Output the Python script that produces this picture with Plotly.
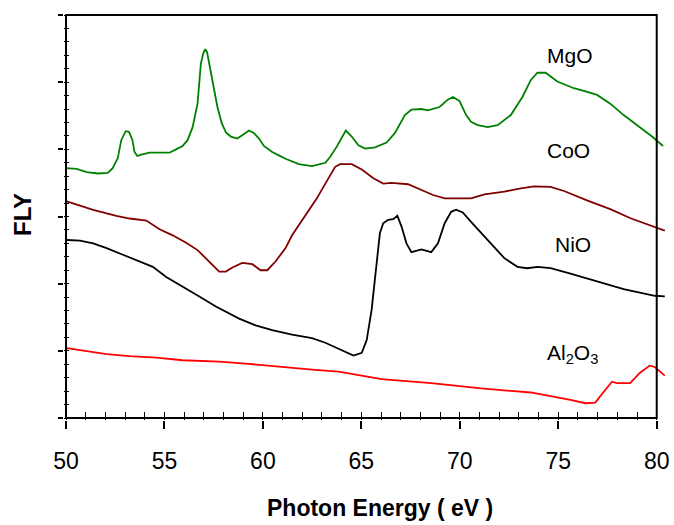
import plotly.graph_objects as go

# Photon energy (eV) and FLY intensity (arb. units, offset per sample)
mgo_x = [50.00, 50.54, 51.05, 51.63, 52.12, 52.37, 52.63, 52.81, 53.03, 53.20, 53.37, 53.48, 53.62, 53.82, 54.24,
         55.25, 55.59, 55.92, 56.18, 56.43, 56.68, 56.85, 56.97, 57.07, 57.16, 57.27, 57.44, 57.69, 57.91, 58.12,
         58.37, 58.70, 58.95, 59.29, 59.55, 59.80, 60.05, 60.47, 60.81, 61.15, 61.82, 62.49, 63.17, 63.42, 63.75,
         64.21, 64.51, 64.85, 65.19, 65.69, 66.28, 66.70, 67.21, 67.54, 68.05, 68.38, 68.97, 69.39, 69.65, 69.98,
         70.32, 70.57, 70.91, 71.41, 71.92, 72.59, 73.18, 73.60, 73.94, 74.36, 74.95, 75.79, 76.30, 76.97, 77.64,
         78.32, 79.14, 79.81, 80.32]
mgo_y = [3.72, 3.71, 3.66, 3.64, 3.65, 3.72, 3.87, 4.14, 4.27, 4.26, 4.14, 3.96, 3.90, 3.92, 3.95,
         3.95, 4.00, 4.05, 4.14, 4.33, 4.68, 5.28, 5.43, 5.49, 5.45, 5.28, 5.03, 4.63, 4.39, 4.25,
         4.19, 4.16, 4.21, 4.28, 4.24, 4.16, 4.05, 3.96, 3.91, 3.86, 3.78, 3.75, 3.80, 3.89, 4.04,
         4.28, 4.19, 4.06, 4.01, 4.03, 4.10, 4.24, 4.51, 4.59, 4.60, 4.58, 4.63, 4.74, 4.78, 4.72,
         4.51, 4.41, 4.36, 4.33, 4.36, 4.51, 4.78, 5.03, 5.14, 5.14, 5.01, 4.91, 4.87, 4.81, 4.68,
         4.51, 4.33, 4.18, 4.05]

coo_x = [50.00, 51.38, 52.56, 53.23, 54.08, 54.75, 55.42, 56.10, 56.68, 57.27, 57.78, 58.12, 58.45, 58.95, 59.46,
         59.88, 60.22, 60.64, 61.15, 61.48, 61.99, 62.32, 62.74, 63.17, 63.67, 63.92, 64.51, 65.02, 65.61, 66.11,
         66.53, 67.37, 68.05, 68.64, 69.23, 70.57, 71.25, 72.26, 73.10, 73.77, 74.61, 75.29, 76.46, 77.64, 78.70,
         79.81, 80.41]
coo_y = [3.23, 3.10, 3.01, 2.97, 2.94, 2.81, 2.72, 2.61, 2.50, 2.33, 2.18, 2.18, 2.24, 2.31, 2.29,
         2.20, 2.20, 2.33, 2.53, 2.72, 2.94, 3.10, 3.27, 3.49, 3.74, 3.78, 3.78, 3.70, 3.57, 3.49,
         3.50, 3.48, 3.40, 3.32, 3.27, 3.27, 3.33, 3.37, 3.42, 3.45, 3.44, 3.38, 3.24, 3.11, 2.97,
         2.85, 2.79]

nio_x = [50.04, 50.71, 51.38, 52.06, 52.89, 53.74, 54.41, 55.09, 55.92, 56.77, 57.61, 58.79, 59.63, 60.47, 61.48,
         62.49, 63.17, 63.84, 64.60, 65.02, 65.27, 65.52, 65.77, 65.94, 66.11, 66.36, 66.62, 66.83, 67.04, 67.29,
         67.54, 68.05, 68.55, 68.89, 69.23, 69.56, 69.81, 70.15, 70.57, 71.25, 72.26, 72.93, 73.43, 73.94, 74.61,
         75.62, 76.97, 78.32, 79.90, 80.41]
nio_y = [2.65, 2.64, 2.60, 2.53, 2.43, 2.33, 2.25, 2.10, 1.96, 1.81, 1.66, 1.48, 1.38, 1.31, 1.24,
         1.19, 1.12, 1.03, 0.93, 0.97, 1.16, 1.61, 2.25, 2.75, 2.90, 2.95, 2.96, 3.01, 2.85, 2.60,
         2.47, 2.51, 2.47, 2.60, 2.90, 3.07, 3.10, 3.06, 2.92, 2.70, 2.38, 2.25, 2.23, 2.25, 2.23,
         2.15, 2.03, 1.92, 1.82, 1.81]

al2o3_x = [50.04, 51.21, 52.06, 53.23, 54.58, 55.92, 57.78, 59.13, 60.14, 61.31, 62.49, 63.84, 66.03, 68.55,
           71.08, 73.60, 74.78, 75.62, 76.38, 76.88, 77.31, 77.73, 77.98, 78.65, 79.14, 79.64, 79.90, 80.41]
al2o3_y = [1.04, 0.99, 0.95, 0.92, 0.90, 0.86, 0.84, 0.81, 0.78, 0.75, 0.72, 0.69, 0.58, 0.52,
           0.44, 0.38, 0.32, 0.27, 0.22, 0.23, 0.39, 0.54, 0.52, 0.52, 0.67, 0.78, 0.76, 0.63]

series = [
    ("MgO", mgo_x, mgo_y, "#008000"),
    ("CoO", coo_x, coo_y, "#800000"),
    ("NiO", nio_x, nio_y, "#000000"),
    ("Al2O3", al2o3_x, al2o3_y, "#FF0000"),
]

labels = ["MgO", "CoO", "NiO", "Al<sub>2</sub>O<sub>3</sub>"]
label_x = [75.58, 75.53, 75.74, 75.74]
label_y = [5.40, 3.99, 2.58, 0.95]

x_ticks = [50, 55, 60, 65, 70, 75, 80]
x_min, x_max = 50, 80          # axis box
y_min, y_max = 0, 6
x_view = [49.898, 80.42]       # visible area slightly larger than the box (lines run past x = 80)
y_view = [-0.0298, 6.0298]

FONT = "Liberation Sans, Arial, sans-serif"

fig = go.Figure()
for name, xs, ys, col in series:
    fig.add_trace(go.Scatter(x=xs, y=ys, mode="lines", name=name,
                             line=dict(color=col, width=1.8), showlegend=False))

# axis box outline
fig.add_trace(go.Scatter(x=[x_min, x_max, x_max, x_min, x_min], y=[y_min, y_min, y_max, y_max, y_min],
                         mode="lines", line=dict(color="black", width=2), showlegend=False,
                         hoverinfo="skip"))

for t, lx, ly in zip(labels, label_x, label_y):
    fig.add_annotation(x=lx, y=ly, text=t, showarrow=False,
                       font=dict(family=FONT, size=21, color="black"),
                       xanchor="center", yanchor="middle")

fig.add_annotation(xref="paper", yref="paper", x=0.526, y=-0.216, text="<b>Photon Energy ( eV )</b>",
                   showarrow=False, font=dict(family=FONT, size=23, color="black"),
                   xanchor="center", yanchor="middle")
fig.add_annotation(xref="paper", yref="paper", x=-0.068, y=0.504, text="<b>FLY</b>", textangle=-90,
                   showarrow=False, font=dict(family=FONT, size=24, color="black"),
                   xanchor="center", yanchor="middle")

fig.update_layout(
    width=674, height=525, autosize=False,
    margin=dict(l=64, r=9, t=13, b=105, autoexpand=False),
    paper_bgcolor="white", plot_bgcolor="white",
    font=dict(family=FONT, color="black"),
    xaxis=dict(range=x_view, tickvals=x_ticks, ticktext=[str(v) for v in x_ticks],
               automargin=False,
               showgrid=False, zeroline=False, showline=False,
               ticks="outside", ticklen=8, tickwidth=1.5, tickcolor="black",
               ticklabelstandoff=12,
               tickfont=dict(family=FONT, size=23, color="black"),
               minor=dict(dtick=1, tick0=50, ticks="inside", ticklen=8, tickwidth=1, tickcolor="black")),
    yaxis=dict(range=y_view, tickvals=[0, 1, 2, 3, 4, 5, 6], showticklabels=False, automargin=False,
               showgrid=False, zeroline=False, showline=False,
               ticks="outside", ticklen=5, tickwidth=1.5, tickcolor="black",
               minor=dict(dtick=0.2, tick0=0, ticks="inside", ticklen=5, tickwidth=1, tickcolor="black")),
)

fig.write_html("out.html")
